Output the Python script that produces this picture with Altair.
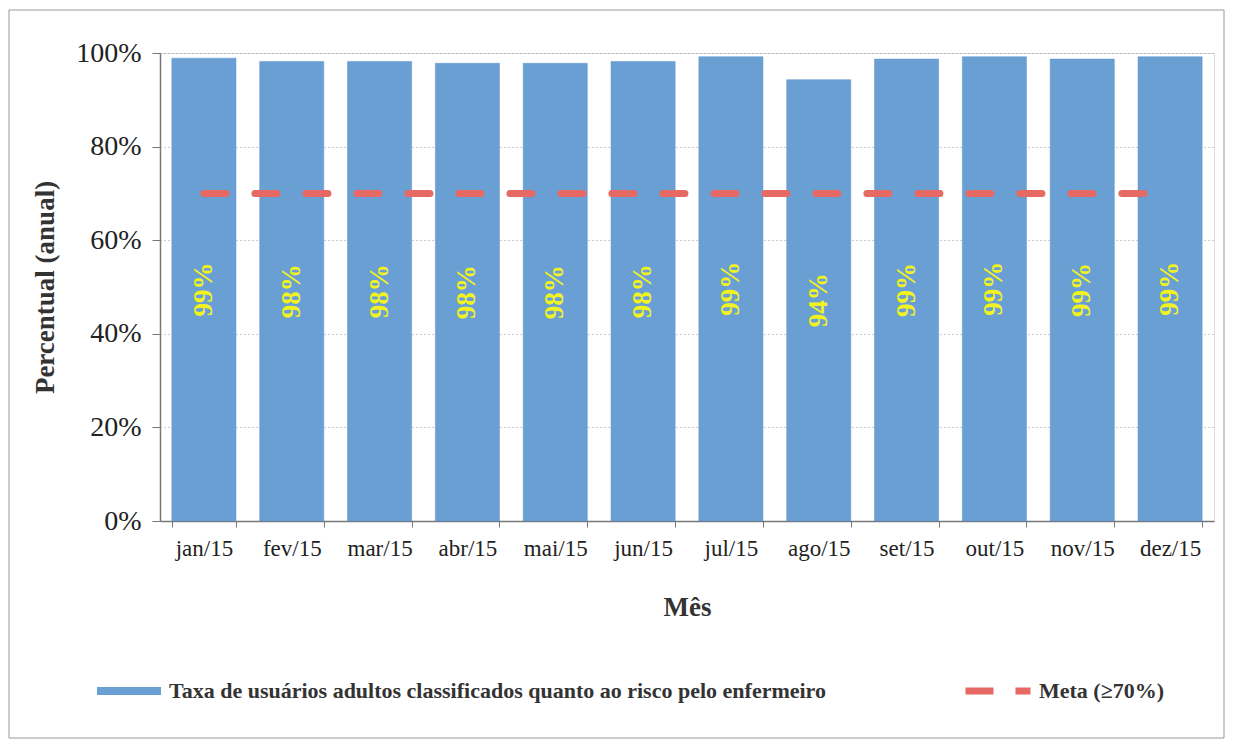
import altair as alt
import pandas as pd

months = ["jan/15", "fev/15", "mar/15", "abr/15", "mai/15", "jun/15",
          "jul/15", "ago/15", "set/15", "out/15", "nov/15", "dez/15"]
values = [98.9, 98.2, 98.2, 97.8, 97.8, 98.2, 99.2, 94.3, 98.7, 99.2, 98.7, 99.2]
labels = ["99%", "98%", "98%", "98%", "98%", "98%", "99%", "94%", "99%", "99%", "99%", "99%"]
meta = [70] * 12

serie_bar = "Taxa de usuários adultos classificados quanto ao risco pelo enfermeiro"
serie_meta = "Meta (≥70%)"

df = pd.DataFrame({"mes": months, "valor": values, "rotulo": labels,
                   "meta": meta, "serie": serie_bar, "serie_meta": serie_meta})

FONT = "Liberation Serif"
BLUE = "#6A9FD4"
RED = "#E66A63"
YELLOW = "#F2F21E"

W, H = 1054, 468

xenc = alt.X("mes:N", sort=months,
             scale=alt.Scale(paddingInner=0.27, paddingOuter=0.135),
             axis=alt.Axis(title="Mês", labelAngle=0, labelFont=FONT, labelFontSize=23,
                           labelColor="#222", labelPadding=10, tickSize=6, tickBand="extent",
                           tickColor="#777", domainColor="#777", domainWidth=1.5,
                           titleFont=FONT, titleFontSize=27, titleFontWeight="bold",
                           titleColor="#333", titleY=86, titleBaseline="middle"))

base = alt.Chart(df)

border = alt.Chart(pd.DataFrame({"k": [0]})).mark_rect(
    fill="white", fillOpacity=0, stroke="#999", strokeWidth=1
).encode(x=alt.value(-151), x2=alt.value(W + 10), y=alt.value(-43), y2=alt.value(H + 217))

bars = base.mark_bar(stroke="#5E93CC", strokeWidth=0.5).encode(
    x=xenc,
    y=alt.Y("valor:Q", scale=alt.Scale(domain=[0, 100]),
            axis=alt.Axis(title="Percentual (anual)", values=[0, 20, 40, 60, 80, 100],
                          labelExpr="datum.value + '%'", labelFont=FONT, labelFontSize=28,
                          labelColor="#222", labelPadding=11, tickSize=8, tickColor="#777",
                          domainColor="#777", domainWidth=1.5,
                          grid=True, gridDash=[1, 3], gridColor="#999", gridWidth=1,
                          titleFont=FONT, titleFontSize=27, titleFontWeight="bold",
                          titleColor="#333", titleX=-115, titleY=H / 2, titleAngle=270,
                          titleAlign="center", titleBaseline="middle")),
    fill=alt.Fill("serie:N", scale=alt.Scale(domain=[serie_bar], range=[BLUE]),
                  legend=alt.Legend(title=None, orient="none", legendX=-63, legendY=606,
                                    symbolType="M-1,-0.125H1V0.125H-1Z", symbolSize=4096,
                                    symbolStrokeWidth=0, labelFont=FONT, labelFontSize=22,
                                    labelFontWeight="bold", labelColor="#333",
                                    labelOffset=8, padding=0, labelLimit=900)),
)

text = base.transform_calculate(meio="datum.valor / 2").mark_text(
    angle=270, font=FONT, fontSize=27, fontWeight="bold", color=YELLOW,
    align="center", baseline="middle"
).encode(x=alt.X("mes:N", sort=months), y=alt.Y("meio:Q"), text="rotulo:N")

line = base.mark_line(strokeWidth=7, strokeDash=[22, 29], strokeCap="round").encode(
    x=alt.X("mes:N", sort=months),
    y=alt.Y("meta:Q"),
    stroke=alt.Stroke("serie_meta:N", scale=alt.Scale(domain=[serie_meta], range=[RED]),
                      legend=alt.Legend(title=None, orient="none", legendX=802, legendY=602,
                                        symbolType="stroke", symbolSize=4225,
                                        symbolStrokeWidth=7, symbolDash=[28, 22],
                                        labelFont=FONT, labelFontSize=22,
                                        labelFontWeight="bold", labelColor="#333",
                                        labelOffset=5, padding=0, labelLimit=300)),
)

chart = alt.layer(border, bars, text, line).resolve_scale(x="shared").properties(
    width=W, height=H,
    autosize=alt.AutoSizeParams(type="none"),
    padding={"left": 152, "top": 45, "right": 11, "bottom": 219},
).configure_view(stroke=None).configure(background="white")

chart.save("out.html", embed_options={"renderer": "svg", "actions": False})
